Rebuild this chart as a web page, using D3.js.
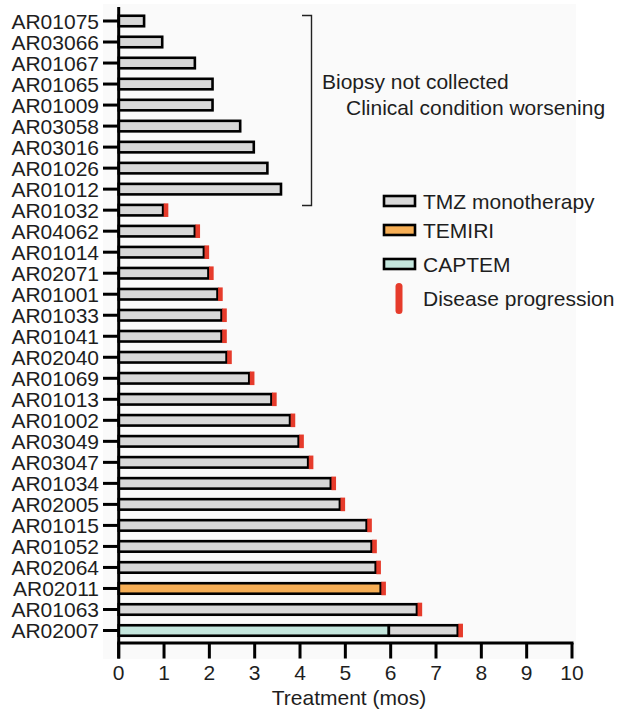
<!DOCTYPE html>
<html><head><meta charset="utf-8">
<script src="https://cdn.jsdelivr.net/npm/d3@7"></script>
<style>
html,body{margin:0;padding:0;background:#fff;}
svg{display:block;font-family:"Liberation Sans",Arial,Helvetica,sans-serif;}
</style></head>
<body>
<svg id="chart" width="618" height="711"></svg>
<script>
const patients = ["AR01075","AR03066","AR01067","AR01065","AR01009","AR03058","AR03016","AR01026","AR01012","AR01032","AR04062","AR01014","AR02071","AR01001","AR01033","AR01041","AR02040","AR01069","AR01013","AR01002","AR03049","AR03047","AR01034","AR02005","AR01015","AR01052","AR02064","AR02011","AR01063","AR02007"];
const treatmentEnd = [0.56,0.96,1.68,2.07,2.07,2.68,2.98,3.28,3.58,0.98,1.68,1.88,1.98,2.18,2.27,2.27,2.38,2.88,3.37,3.78,3.97,4.18,4.68,4.88,5.47,5.58,5.67,5.78,6.58,7.48];
// first regimen and when it ended (rest of treatment is TMZ monotherapy)
const firstRegimen = ["TMZ","TMZ","TMZ","TMZ","TMZ","TMZ","TMZ","TMZ","TMZ","TMZ","TMZ","TMZ","TMZ","TMZ","TMZ","TMZ","TMZ","TMZ","TMZ","TMZ","TMZ","TMZ","TMZ","TMZ","TMZ","TMZ","TMZ","TEMIRI","TMZ","CAPTEM"];
const firstRegimenEnd = [0.56,0.96,1.68,2.07,2.07,2.68,2.98,3.28,3.58,0.98,1.68,1.88,1.98,2.18,2.27,2.27,2.38,2.88,3.37,3.78,3.97,4.18,4.68,4.88,5.47,5.58,5.67,5.78,6.58,5.96];
const progression = [0,0,0,0,0,0,0,0,0,1,1,1,1,1,1,1,1,1,1,1,1,1,1,1,1,1,1,1,1,1];
const xTicks = [0,1,2,3,4,5,6,7,8,9,10];
const legendLabels = ["TMZ monotherapy","TEMIRI","CAPTEM"];
const bracketNote = ["Biopsy not collected","Clinical condition worsening"];
const xTitle = "Treatment (mos)";

const colors = {TMZ:"#d8d8d8", TEMIRI:"#f6ae55", CAPTEM:"#c4e6dd"};
const red = "#e63b2b";
const ink = "#1e1e1e";
const fs = 21;

const svg = d3.select("#chart");
svg.append("rect").attr("x",103).attr("y",4).attr("width",473).attr("height",655).attr("fill","#fafafa");

const x = d3.scaleLinear().domain([0,10]).range([118.7,572]);
const y = d3.scalePoint().domain(patients).range([21,630.5]);
const barH = 10.5;

// build segments
const segs = [];
patients.forEach((p,i)=>{
  segs.push({p, x0:0, x1:firstRegimenEnd[i], reg:firstRegimen[i]});
  if (treatmentEnd[i] > firstRegimenEnd[i]) segs.push({p, x0:firstRegimenEnd[i], x1:treatmentEnd[i], reg:"TMZ"});
});

svg.append("g").selectAll("rect").data(segs).join("rect")
  .attr("x", d=>x(d.x0)).attr("y", d=>y(d.p)-barH/2)
  .attr("width", d=>x(d.x1)-x(d.x0)).attr("height", barH)
  .attr("fill", d=>colors[d.reg]).attr("stroke","#000").attr("stroke-width",2.6);

// progression markers
svg.append("g").selectAll("rect").data(patients.filter((p,i)=>progression[i]))
  .join("rect")
  .attr("x", p=>x(treatmentEnd[patients.indexOf(p)])+0.6)
  .attr("y", p=>y(p)-6.8).attr("width",4.6).attr("height",13.6)
  .attr("fill", red);

// y axis
const ya = svg.append("g");
ya.append("line").attr("x1",x(0)).attr("x2",x(0)).attr("y1",7).attr("y2",658.5)
  .attr("stroke","#000").attr("stroke-width",3);
ya.selectAll("line.t").data(patients).join("line").attr("class","t")
  .attr("x1",103).attr("x2",x(0)).attr("y1",d=>y(d)).attr("y2",d=>y(d))
  .attr("stroke","#000").attr("stroke-width",3);
ya.selectAll("text").data(patients).join("text")
  .attr("x",99).attr("y",d=>y(d)).attr("dy","0.36em").attr("text-anchor","end")
  .attr("font-size",fs).attr("fill",ink).text(d=>d);

// x axis
const axisY = 643;
const xa = svg.append("g");
xa.append("line").attr("x1",x(0)-1.5).attr("x2",x(10)+1.5).attr("y1",axisY).attr("y2",axisY)
  .attr("stroke","#000").attr("stroke-width",3);
xa.selectAll("line.t").data(xTicks).join("line").attr("class","t")
  .attr("x1",d=>x(d)).attr("x2",d=>x(d)).attr("y1",axisY).attr("y2",658.5)
  .attr("stroke","#000").attr("stroke-width",3);
xa.selectAll("text").data(xTicks).join("text")
  .attr("x",d=>x(d)).attr("y",672).attr("dy","0.36em").attr("text-anchor","middle")
  .attr("font-size",fs).attr("fill",ink).text(d=>d);
svg.append("text").attr("x",349).attr("y",697).attr("dy","0.36em").attr("text-anchor","middle")
  .attr("font-size",fs).attr("fill",ink).text(xTitle);

// bracket
svg.append("path").attr("d","M302,15.5H311.5V205.5H302").attr("fill","none")
  .attr("stroke","#222").attr("stroke-width",1.4);
svg.append("text").attr("x",322).attr("y",81).attr("dy","0.36em").attr("font-size",fs).attr("fill",ink).text(bracketNote[0]);
svg.append("text").attr("x",346).attr("y",107).attr("dy","0.36em").attr("font-size",fs).attr("fill",ink).text(bracketNote[1]);

// legend
const legY = [201,230,264];
const legKeys = ["TMZ","TEMIRI","CAPTEM"];
legendLabels.forEach((lab,i)=>{
  svg.append("rect").attr("x",384).attr("y",legY[i]-5).attr("width",31).attr("height",10)
    .attr("fill",colors[legKeys[i]]).attr("stroke","#000").attr("stroke-width",2.6);
  svg.append("text").attr("x",423).attr("y",legY[i]).attr("dy","0.36em").attr("font-size",fs).attr("fill",ink).text(lab);
});
svg.append("line").attr("x1",399).attr("x2",399).attr("y1",286.5).attr("y2",310.5)
  .attr("stroke",red).attr("stroke-width",7).attr("stroke-linecap","round");
svg.append("text").attr("x",423).attr("y",298).attr("dy","0.36em").attr("font-size",fs).attr("fill",ink).text("Disease progression");
</script>
</body></html>
